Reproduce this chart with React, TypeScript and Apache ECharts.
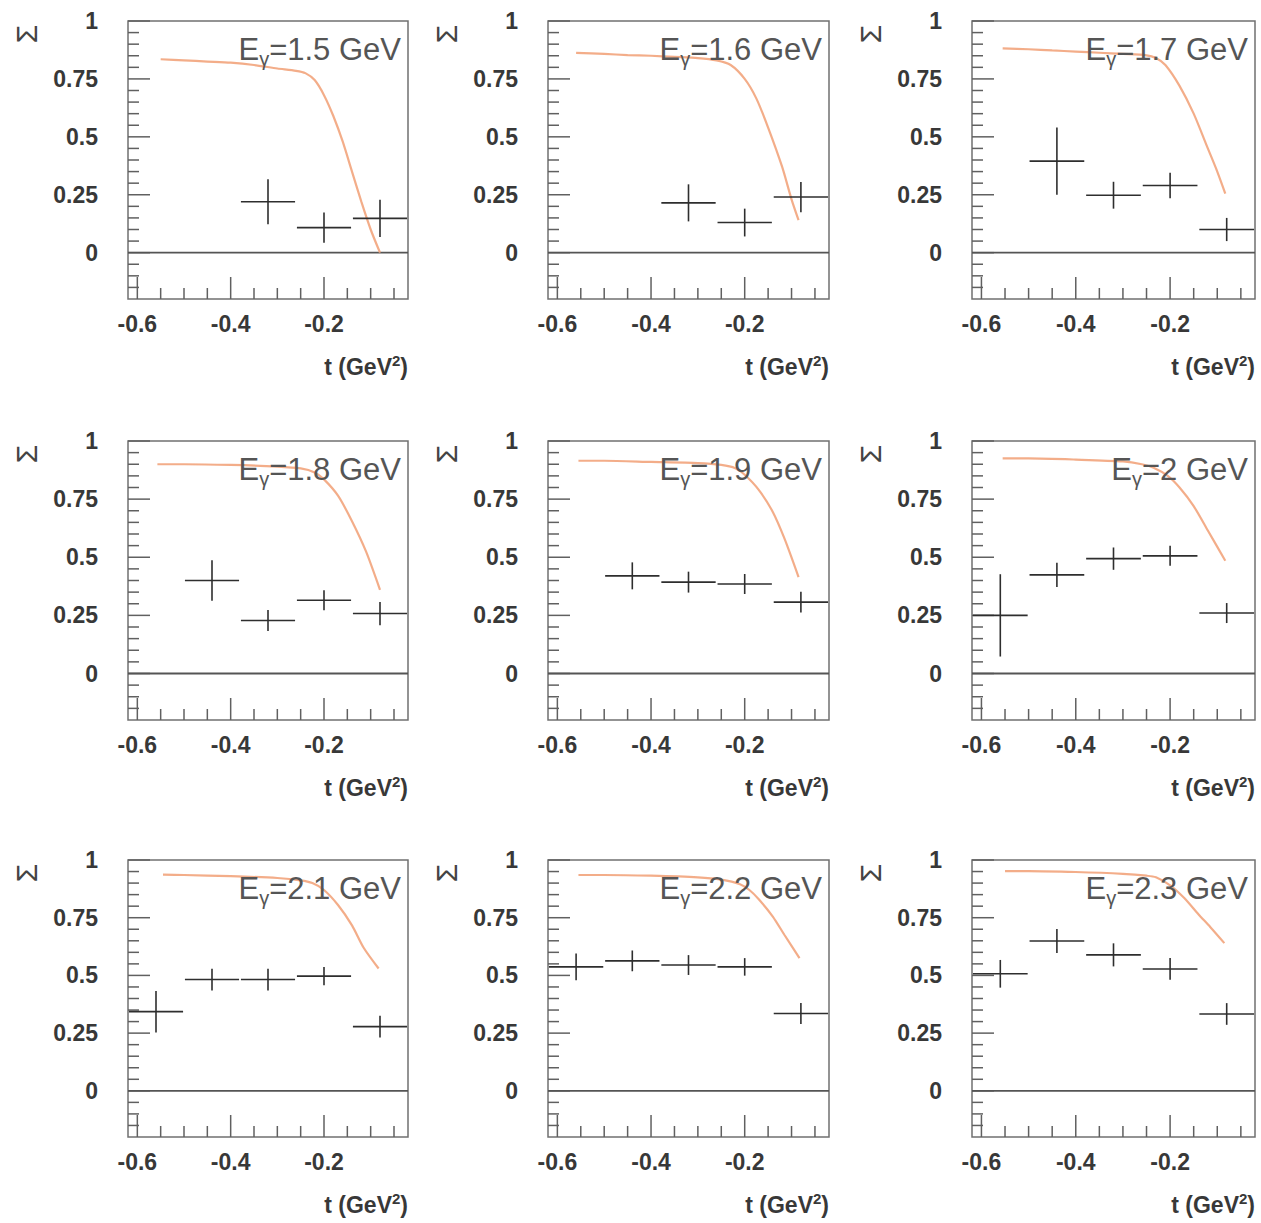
import React, { useEffect, useRef } from "react";
import * as echarts from "echarts";

// Photon beam energies (GeV), one panel each
const energies = ["1.5", "1.6", "1.7", "1.8", "1.9", "2", "2.1", "2.2", "2.3"];

// t bin centres (GeV^2) and half-width of each bin
const tBins = [-0.56, -0.44, -0.32, -0.2, -0.08];
const binHalfWidth = 0.058;

// Measured beam asymmetry per bin (null = no measurement) and its uncertainty
const sigma15 = [null, null, 0.22, 0.108, 0.148];
const error15 = [null, null, 0.097, 0.065, 0.08];
const sigma16 = [null, null, 0.215, 0.13, 0.24];
const error16 = [null, null, 0.08, 0.06, 0.065];
const sigma17 = [null, 0.395, 0.248, 0.29, 0.1];
const error17 = [null, 0.145, 0.058, 0.055, 0.05];
const sigma18 = [null, 0.4, 0.228, 0.315, 0.258];
const error18 = [null, 0.087, 0.045, 0.043, 0.05];
const sigma19 = [null, 0.42, 0.393, 0.385, 0.307];
const error19 = [null, 0.058, 0.045, 0.043, 0.045];
const sigma20 = [0.25, 0.424, 0.494, 0.506, 0.26];
const error20 = [0.177, 0.052, 0.048, 0.043, 0.043];
const sigma21 = [0.343, 0.482, 0.482, 0.497, 0.278];
const error21 = [0.09, 0.047, 0.047, 0.04, 0.047];
const sigma22 = [0.537, 0.563, 0.545, 0.537, 0.335];
const error22 = [0.058, 0.045, 0.043, 0.038, 0.045];
const sigma23 = [0.507, 0.649, 0.589, 0.528, 0.333];
const error23 = [0.06, 0.052, 0.05, 0.047, 0.047];

// Model prediction curves, [t, Sigma]
const curve15 = [[-0.55, 0.835], [-0.5, 0.83], [-0.45, 0.825], [-0.4, 0.82], [-0.35, 0.81], [-0.3, 0.795], [-0.26, 0.785], [-0.24, 0.775], [-0.22, 0.745], [-0.2, 0.68], [-0.18, 0.59], [-0.16, 0.48], [-0.14, 0.35], [-0.12, 0.22], [-0.1, 0.1], [-0.08, 0.0]];
const curve16 = [[-0.56, 0.862], [-0.5, 0.858], [-0.45, 0.853], [-0.4, 0.85], [-0.35, 0.845], [-0.3, 0.84], [-0.26, 0.83], [-0.23, 0.81], [-0.2, 0.75], [-0.175, 0.665], [-0.15, 0.54], [-0.12, 0.37], [-0.1, 0.23], [-0.085, 0.14]];
const curve17 = [[-0.555, 0.882], [-0.5, 0.878], [-0.45, 0.873], [-0.4, 0.868], [-0.35, 0.863], [-0.3, 0.858], [-0.25, 0.852], [-0.23, 0.84], [-0.21, 0.81], [-0.18, 0.72], [-0.15, 0.6], [-0.12, 0.45], [-0.1, 0.35], [-0.083, 0.255]];
const curve18 = [[-0.557, 0.9], [-0.5, 0.9], [-0.4, 0.897], [-0.3, 0.89], [-0.25, 0.882], [-0.22, 0.865], [-0.2, 0.835], [-0.17, 0.765], [-0.14, 0.655], [-0.11, 0.525], [-0.08, 0.36]];
const curve19 = [[-0.555, 0.915], [-0.5, 0.915], [-0.4, 0.91], [-0.3, 0.905], [-0.25, 0.897], [-0.22, 0.883], [-0.2, 0.855], [-0.17, 0.79], [-0.14, 0.695], [-0.115, 0.58], [-0.085, 0.415]];
const curve20 = [[-0.555, 0.925], [-0.5, 0.925], [-0.4, 0.92], [-0.3, 0.912], [-0.26, 0.9], [-0.235, 0.885], [-0.205, 0.85], [-0.18, 0.8], [-0.15, 0.72], [-0.12, 0.615], [-0.083, 0.485]];
const curve21 = [[-0.545, 0.937], [-0.5, 0.935], [-0.4, 0.93], [-0.3, 0.922], [-0.25, 0.912], [-0.225, 0.9], [-0.2, 0.87], [-0.17, 0.805], [-0.14, 0.717], [-0.115, 0.62], [-0.083, 0.53]];
const curve22 = [[-0.555, 0.935], [-0.5, 0.935], [-0.4, 0.932], [-0.3, 0.925], [-0.25, 0.915], [-0.21, 0.895], [-0.19, 0.87], [-0.17, 0.83], [-0.14, 0.755], [-0.115, 0.675], [-0.083, 0.575]];
const curve23 = [[-0.55, 0.952], [-0.5, 0.952], [-0.4, 0.948], [-0.3, 0.94], [-0.25, 0.932], [-0.23, 0.925], [-0.2, 0.89], [-0.17, 0.835], [-0.14, 0.765], [-0.115, 0.71], [-0.085, 0.64]];

// Axis ticks
const xMajorTicks = [-0.6, -0.4, -0.2];
const xMinorTicks = [-0.55, -0.5, -0.45, -0.35, -0.3, -0.25, -0.15, -0.1, -0.05];
const yMajorTicks = [0, 0.25, 0.5, 0.75, 1];
const yMinorTicks = [-0.15, -0.1, -0.05, 0.05, 0.1, 0.15, 0.2, 0.3, 0.35, 0.4, 0.45, 0.55, 0.6, 0.65, 0.7, 0.8, 0.85, 0.9, 0.95];

const sigmas = [sigma15, sigma16, sigma17, sigma18, sigma19, sigma20, sigma21, sigma22, sigma23];
const errors = [error15, error16, error17, error18, error19, error20, error21, error22, error23];
const curves = [curve15, curve16, curve17, curve18, curve19, curve20, curve21, curve22, curve23];

const X_MIN = -0.62;
const X_MAX = -0.02;
const Y_MIN = -0.2;
const Y_MAX = 1.0;

const FONT = '"Liberation Sans", Arial, Helvetica, sans-serif';
const COL_LEFT = [128, 548, 972];
const COL_WIDTH = [280, 281, 283];
const ROW_TOP = [21, 441, 860];
const ROW_HEIGHT = [278, 279, 277];

function buildOption() {
  const grid: any[] = [];
  const xAxis: any[] = [];
  const yAxis: any[] = [];
  const series: any[] = [];
  const graphic: any[] = [];

  const tickData = [
    ...xMajorTicks.map((v) => [v, Y_MIN, 1, 0]),
    ...xMinorTicks.map((v) => [v, Y_MIN, 0, 0]),
    ...yMajorTicks.map((v) => [X_MIN, v, 1, 1]),
    ...yMinorTicks.map((v) => [X_MIN, v, 0, 1]),
  ];

  energies.forEach((e, i) => {
    const row = Math.floor(i / 3);
    const col = i % 3;
    const left = COL_LEFT[col];
    const top = ROW_TOP[row];
    const width = COL_WIDTH[col];
    const height = ROW_HEIGHT[row];

    grid.push({
      left,
      top,
      width,
      height,
      show: true,
      borderColor: "#707070",
      borderWidth: 1.5,
      backgroundColor: "#ffffff",
    });

    xAxis.push({
      type: "value",
      gridIndex: i,
      min: X_MIN,
      max: X_MAX,
      axisLine: { show: false },
      axisTick: { show: false },
      splitLine: { show: false },
      axisLabel: {
        customValues: xMajorTicks,
        margin: 13,
        fontSize: 23,
        fontWeight: "bold",
        color: "#383838",
        fontFamily: FONT,
      },
    });

    yAxis.push({
      type: "value",
      gridIndex: i,
      min: Y_MIN,
      max: Y_MAX,
      axisLine: { show: false },
      axisTick: { show: false },
      splitLine: { show: false },
      axisLabel: {
        customValues: yMajorTicks,
        margin: 30,
        fontSize: 23,
        fontWeight: "bold",
        color: "#383838",
        fontFamily: FONT,
      },
    });

    // inside ticks along the bottom and left edges
    series.push({
      type: "custom",
      xAxisIndex: i,
      yAxisIndex: i,
      silent: true,
      data: tickData,
      renderItem: (params: any, api: any) => {
        const p = api.coord([api.value(0), api.value(1)]);
        const len = api.value(2) ? 22 : 11;
        const vertical = api.value(3) === 0;
        return {
          type: "line",
          shape: vertical
            ? { x1: p[0], y1: p[1], x2: p[0], y2: p[1] - len }
            : { x1: p[0], y1: p[1], x2: p[0] + len, y2: p[1] },
          style: { stroke: "#606060", lineWidth: 1.5 },
        };
      },
    });

    // zero reference line
    series.push({
      type: "line",
      xAxisIndex: i,
      yAxisIndex: i,
      silent: true,
      symbol: "none",
      data: [
        [X_MIN, 0],
        [X_MAX, 0],
      ],
      lineStyle: { color: "#555555", width: 1.8 },
    });

    // model curve
    series.push({
      type: "line",
      xAxisIndex: i,
      yAxisIndex: i,
      silent: true,
      symbol: "none",
      smooth: 0.25,
      data: curves[i],
      lineStyle: { color: "#f2a47c", width: 2.2, opacity: 0.9 },
      z: 3,
    });

    // measured points with error crosses
    const points: any[] = [];
    sigmas[i].forEach((s, k) => {
      if (s !== null) points.push([tBins[k], s, errors[i][k], binHalfWidth]);
    });
    series.push({
      type: "custom",
      xAxisIndex: i,
      yAxisIndex: i,
      silent: true,
      data: points,
      z: 4,
      renderItem: (params: any, api: any) => {
        const t = api.value(0);
        const s = api.value(1);
        const err = api.value(2);
        const hw = api.value(3);
        const l = api.coord([Math.max(t - hw, X_MIN), s]);
        const r = api.coord([Math.min(t + hw, X_MAX), s]);
        const b = api.coord([t, s - err]);
        const u = api.coord([t, s + err]);
        const style = { stroke: "#2e2e2e", lineWidth: 1.6 };
        return {
          type: "group",
          children: [
            { type: "line", shape: { x1: l[0], y1: l[1], x2: r[0], y2: r[1] }, style },
            { type: "line", shape: { x1: b[0], y1: b[1], x2: u[0], y2: u[1] }, style },
          ],
        };
      },
    });

    // panel label
    graphic.push({
      type: "text",
      x: left + width - 7,
      y: top + 28,
      z: 10,
      style: {
        text: `{e|E}{g|γ}{e|=${e} GeV}`,
        align: "right",
        verticalAlign: "middle",
        rich: {
          e: { fontSize: 31, fontFamily: FONT, fill: "#555555", lineHeight: 34 },
          g: { fontSize: 20, fontFamily: FONT, fill: "#555555", lineHeight: 20, padding: [20, 0, 0, 0] },
        },
      },
    });

    // x-axis title
    graphic.push({
      type: "text",
      x: left + width,
      y: top + height + 68,
      z: 10,
      style: {
        text: "{t|t (GeV}{s|2}{t|)}",
        align: "right",
        verticalAlign: "middle",
        rich: {
          t: { fontSize: 23, fontWeight: "bold", fontFamily: FONT, fill: "#383838", lineHeight: 28 },
          s: { fontSize: 15, fontWeight: "bold", fontFamily: FONT, fill: "#383838", lineHeight: 15, verticalAlign: "top" },
        },
      },
    });

    // y-axis title
    graphic.push({
      type: "text",
      x: left - 102,
      y: top + 13,
      rotation: Math.PI / 2,
      z: 10,
      style: {
        text: "Σ",
        align: "center",
        verticalAlign: "middle",
        fontSize: 30,
        fontFamily: FONT,
        fill: "#444444",
      },
    });
  });

  return {
    animation: false,
    backgroundColor: "#ffffff",
    grid,
    xAxis,
    yAxis,
    series,
    graphic,
  };
}

export default function App() {
  const ref = useRef<HTMLDivElement>(null);

  useEffect(() => {
    document.body.style.margin = "0";
    if (!ref.current) return;
    const chart = echarts.init(ref.current, undefined, { renderer: "svg" });
    chart.setOption(buildOption());
    return () => chart.dispose();
  }, []);

  return <div ref={ref} style={{ width: 1261, height: 1223 }} />;
}
